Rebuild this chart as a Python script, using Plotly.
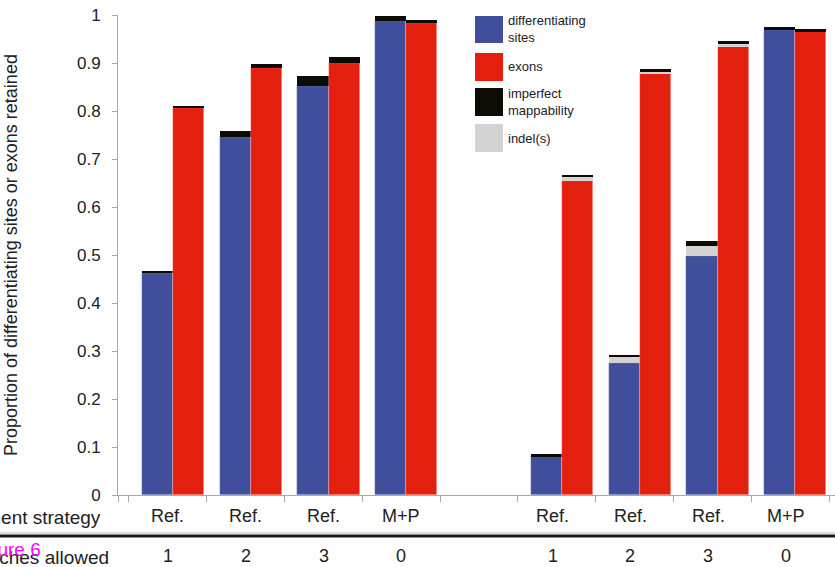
import plotly.graph_objects as go

# Slot positions along the x axis (slot 4 is an empty spacer between the two panels)
slots = [0, 1, 2, 3, 5, 6, 7, 8]
strategy = ["Ref.", "Ref.", "Ref.", "M+P", "Ref.", "Ref.", "Ref.", "M+P"]
mismatches = ["1", "2", "3", "0", "1", "2", "3", "0"]

# Proportions retained, stacked: retained, indel(s), imperfect mappability
sites_main = [0.463, 0.746, 0.853, 0.987, 0.081, 0.276, 0.497, 0.968]
sites_indel = [0.0, 0.0, 0.0, 0.0, 0.0, 0.012, 0.022, 0.0]
sites_imperfect = [0.003, 0.012, 0.019, 0.011, 0.004, 0.004, 0.010, 0.006]

exons_main = [0.806, 0.889, 0.899, 0.983, 0.654, 0.879, 0.935, 0.966]
exons_indel = [0.0, 0.0, 0.0, 0.0, 0.008, 0.004, 0.004, 0.0]
exons_imperfect = [0.005, 0.009, 0.013, 0.006, 0.005, 0.004, 0.007, 0.004]

y_ticks = [0, 0.1, 0.2, 0.3, 0.4, 0.5, 0.6, 0.7, 0.8, 0.9, 1]
y_tick_text = ["0", "0.1", "0.2", "0.3", "0.4", "0.5", "0.6", "0.7", "0.8", "0.9", "1"]

BLUE = "#404E9C"
RED = "#E3200E"
BLACK = "#0D0B05"
GREY = "#D3D3D3"
TEXT = "#222222"
FONT = "Liberation Sans, Arial, sans-serif"

W, H = 835, 567
ML, MR, MT, MB = 118, 0, 15, 72
PW, PH = W - ML - MR, H - MT - MB

X_MIN, X_MAX = -0.707, 8.51
BAR_W = 0.4


def px_x(px):
    return (px - ML) / PW


def px_y(py):
    return (H - MB - py) / PH


fig = go.Figure()
edge = dict(width=0.6, color="rgba(255,255,255,0.45)")


def add_stack(main, indel, imperfect, color, offset, name):
    base2 = [m + i for m, i in zip(main, indel)]
    fig.add_trace(go.Bar(x=slots, y=main, base=[0] * len(main), width=BAR_W, offset=offset,
                         marker=dict(color=color, line=edge), name=name, showlegend=False))
    fig.add_trace(go.Bar(x=slots, y=indel, base=main, width=BAR_W, offset=offset,
                         marker=dict(color=GREY, line=dict(width=0)), showlegend=False))
    fig.add_trace(go.Bar(x=slots, y=imperfect, base=base2, width=BAR_W, offset=offset,
                         marker=dict(color=BLACK, line=dict(width=0)), showlegend=False))


add_stack(sites_main, sites_indel, sites_imperfect, BLUE, -BAR_W, "differentiating sites")
add_stack(exons_main, exons_indel, exons_imperfect, RED, 0.0, "exons")

# category boundary ticks
boundaries = [X_MIN] + [s - 0.566 for s in range(10)]

fig.update_layout(
    width=W, height=H,
    margin=dict(l=ML, r=MR, t=MT, b=MB),
    paper_bgcolor="white", plot_bgcolor="white",
    barmode="overlay", bargap=0,
    font=dict(family=FONT, color=TEXT),
    xaxis=dict(range=[X_MIN, X_MAX], showgrid=False, zeroline=False,
               showline=True, linecolor="#A8A8A8", linewidth=1,
               ticks="outside", ticklen=6, tickcolor="#A8A8A8",
               tickvals=boundaries, showticklabels=False),
    yaxis=dict(range=[0, 1], showgrid=False, zeroline=False,
               showline=True, linecolor="#A8A8A8", linewidth=1,
               ticks="outside", ticklen=5, tickcolor="#A8A8A8",
               tickvals=y_ticks, ticktext=y_tick_text,
               tickfont=dict(size=17, color=TEXT), ticklabelstandoff=8),
)

annotations = []
# y-axis title
annotations.append(dict(x=px_x(23), y=0.5, xref="paper", yref="paper",
                        text="Proportion of differentiating sites or exons retained",
                        textangle=-90, showarrow=False, xanchor="right", yanchor="middle",
                        font=dict(size=18, color=TEXT)))

# category table below the axis
for i, s in enumerate(slots):
    shift = -0.065 if s < 4 else -0.12
    annotations.append(dict(x=s + shift, y=px_y(516), xref="x", yref="paper", text=strategy[i],
                            showarrow=False, xanchor="center", yanchor="middle",
                            font=dict(size=18, color=TEXT)))
    annotations.append(dict(x=s + shift, y=px_y(556), xref="x", yref="paper", text=mismatches[i],
                            showarrow=False, xanchor="center", yanchor="middle",
                            font=dict(size=18, color=TEXT)))

annotations.append(dict(x=px_x(103), y=px_y(517), xref="paper", yref="paper",
                        text="Alignment strategy", showarrow=False, xanchor="right",
                        yanchor="middle", font=dict(size=19, color=TEXT)))
annotations.append(dict(x=px_x(111), y=px_y(557), xref="paper", yref="paper",
                        text="Mismatches allowed", showarrow=False, xanchor="right",
                        yanchor="middle", font=dict(size=19, color=TEXT)))
annotations.append(dict(x=px_x(43), y=px_y(549), xref="paper", yref="paper",
                        text="Figure 6", showarrow=False, xanchor="right",
                        yanchor="middle", font=dict(size=19, color="#FF00FF")))

# legend built from swatches and labels
legend_items = [("differentiating<br>sites", BLUE, 16, 43),
                ("exons", RED, 53, 81),
                ("imperfect<br>mappability", BLACK, 88, 116),
                ("indel(s)", GREY, 124, 152)]
shapes = []
for label, color, y0, y1 in legend_items:
    shapes.append(dict(type="rect", xref="paper", yref="paper",
                       x0=px_x(475), x1=px_x(503), y0=px_y(y1), y1=px_y(y0),
                       fillcolor=color, line=dict(width=0)))
    annotations.append(dict(x=px_x(506), y=px_y((y0 + y1) / 2), xref="paper", yref="paper",
                            text=label, showarrow=False, xanchor="left", yanchor="middle",
                            align="left", font=dict(size=13, color=TEXT)))

# rule separating the two table rows
shapes.append(dict(type="line", xref="paper", yref="paper",
                   x0=px_x(0), x1=px_x(W), y0=px_y(533), y1=px_y(533),
                   line=dict(color="#BBBBBB", width=1)))
shapes.append(dict(type="line", xref="paper", yref="paper",
                   x0=px_x(0), x1=px_x(W), y0=px_y(536), y1=px_y(536),
                   line=dict(color="#1A1A1A", width=3)))

fig.update_layout(annotations=annotations, shapes=shapes)

fig.write_html("out.html")
